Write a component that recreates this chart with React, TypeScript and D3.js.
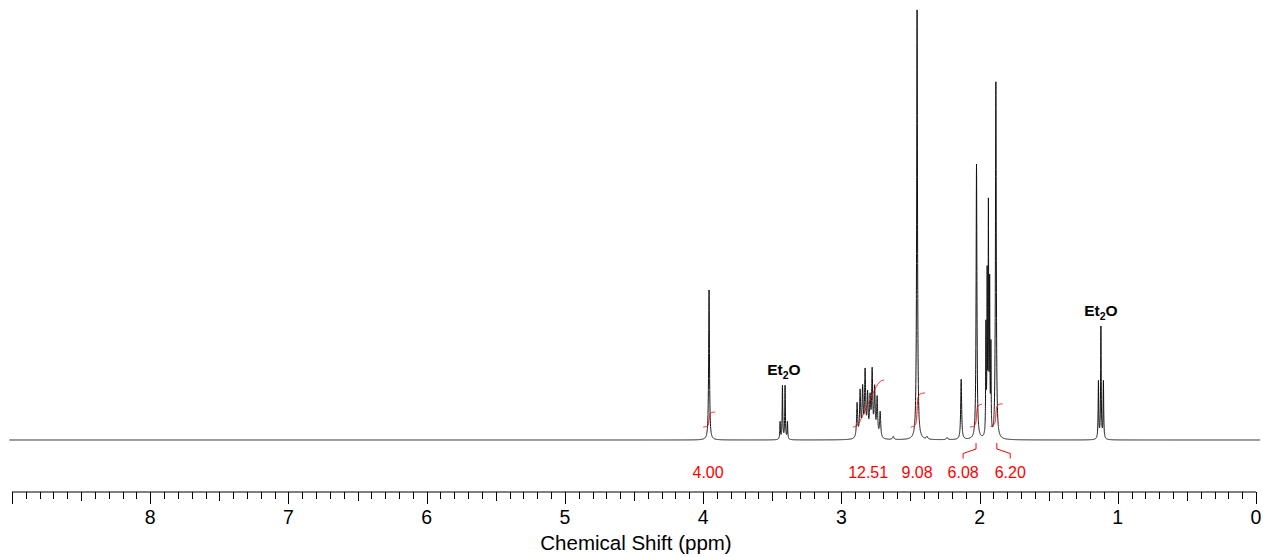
import React from 'react';
import * as d3 from 'd3';

// Peak list (ppm, relative intensity where tallest = 100, half width in ppm)
const PEAK_PPM = [
  3.957,
  3.443, 3.426, 3.407, 3.390,
  2.886, 2.864, 2.846, 2.828, 2.810, 2.792, 2.777, 2.759, 2.741, 2.719,
  2.625, 2.452, 2.38, 2.235, 2.133, 2.022,
  1.954, 1.945, 1.936, 1.927, 1.918,
  1.882,
  1.140, 1.122, 1.104,
];
const PEAK_INTENSITY = [
  34.9,
  4.0, 12.4, 12.4, 4.0,
  8.0, 10.5, 11.0, 15.0, 9.5, 8.5, 15.0, 11.0, 9.0, 6.0,
  0.7, 100, 0.6, 0.5, 14.0, 64.0,
  25.0, 36.0, 52.0, 34.0, 20.0,
  83.0,
  13.3, 26.0, 13.3,
];
const PEAK_WIDTH = [
  0.0035,
  0.0025, 0.0025, 0.0025, 0.0025,
  0.0045, 0.0045, 0.0045, 0.0045, 0.0045, 0.0045, 0.0045, 0.0045, 0.0045, 0.0045,
  0.006, 0.0035, 0.006, 0.006, 0.004, 0.0035,
  0.002, 0.002, 0.002, 0.002, 0.002,
  0.0035,
  0.0025, 0.0025, 0.0025,
];

// Integrals
const INTEGRAL_FROM = [4.0, 2.915, 2.497, 2.068, 1.917];
const INTEGRAL_TO = [3.913, 2.69, 2.394, 1.983, 1.833];
const INTEGRAL_VALUES = [4.0, 12.51, 9.08, 6.08, 6.2];
const INTEGRAL_LABEL_PPM = [3.964, 2.806, 2.452, 2.119, 1.778];

// Solvent annotations
const SOLVENT_PPM = [3.416, 1.122];

// Axis
const TICK_LABELS = [8, 7, 6, 5, 4, 3, 2, 1, 0];
const AXIS_TITLE = 'Chemical Shift (ppm)';

const FONT = '"Liberation Sans", Arial, Helvetica, sans-serif';

function spectrum(p: number): number {
  let s = 0;
  for (let i = 0; i < PEAK_PPM.length; i++) {
    const d = (p - PEAK_PPM[i]) / PEAK_WIDTH[i];
    s += PEAK_INTENSITY[i] / (1 + d * d);
  }
  return s;
}

function localMax(p: number, span: number): number {
  let m = 0;
  for (let q = p - span; q <= p + span; q += 0.0002) m = Math.max(m, spectrum(q));
  PEAK_PPM.forEach((pk) => {
    if (Math.abs(pk - p) <= span) m = Math.max(m, spectrum(pk));
  });
  return m;
}

export default function App() {
  const W = 1263;
  const H = 557;
  const x = d3.scaleLinear().domain([9, 0]).range([12, 1256]);
  const y = d3.scaleLinear().domain([0, 100]).range([440, 10]);

  // sample points: uniform grid plus dense points around each peak
  const ppmSet: number[] = d3.range(-0.03, 9.02, 0.001);
  PEAK_PPM.forEach((p, i) => {
    const w = PEAK_WIDTH[i];
    for (let k = -60; k <= 60; k++) ppmSet.push(p + (k * w) / 5);
  });
  const ppms = Array.from(new Set(ppmSet.map((v) => +v.toFixed(6)))).sort((a, b) => b - a);
  const data: [number, number][] = ppms.map((p) => [p, spectrum(p)]);
  const line = d3
    .line<[number, number]>()
    .x((d) => x(d[0]))
    .y((d) => y(d[1]));

  const integralBase = 427;
  const integralScale = 3.75;
  const integralPaths = INTEGRAL_VALUES.map((v, i) => {
    const a = INTEGRAL_FROM[i];
    const b = INTEGRAL_TO[i];
    const pts = d3.range(a, b - 1e-9, -0.0005);
    pts.push(b);
    const cum: number[] = [0];
    for (let k = 1; k < pts.length; k++) {
      const dp = pts[k - 1] - pts[k];
      cum.push(cum[k - 1] + ((spectrum(pts[k - 1]) + spectrum(pts[k])) / 2) * dp);
    }
    const total = cum[cum.length - 1];
    const h = v * integralScale;
    const pl = pts.map((p, k) => [x(p), integralBase - (cum[k] / total) * h] as [number, number]);
    return d3.line()(pl) || '';
  });

  const ticks = d3.range(0, 91).map((i) => i / 10);

  return (
    <svg
      width={W}
      height={H}
      style={{ position: 'absolute', left: 0, top: 0, display: 'block', background: '#fff' }}
    >
      <rect x={0} y={0} width={W} height={H} fill="#fff" />
      <path d={line(data) || ''} fill="none" stroke="#111" strokeWidth={1} />
      {integralPaths.map((d, i) => (
        <path key={'int' + i} d={d} fill="none" stroke="#ff0000" strokeWidth={1} />
      ))}
      {INTEGRAL_VALUES.map((v, i) => {
        const cx = x((INTEGRAL_FROM[i] + INTEGRAL_TO[i]) / 2);
        const lx = x(INTEGRAL_LABEL_PPM[i]);
        const bracket = Math.abs(cx - lx) > 4;
        return (
          <g key={'lab' + i}>
            {bracket && (
              <path
                d={`M${cx},443 L${cx},449 L${lx},453.5 L${lx},458.5`}
                fill="none"
                stroke="#ff0000"
                strokeWidth={1}
              />
            )}
            <text
              x={lx}
              y={478}
              textAnchor="middle"
              fontFamily={FONT}
              fontSize={16}
              fill="#ff0000"
            >
              {v.toFixed(2)}
            </text>
          </g>
        );
      })}
      {SOLVENT_PPM.map((p, i) => (
        <text
          key={'sol' + i}
          x={x(p)}
          y={y(localMax(p, 0.03)) - 10}
          textAnchor="middle"
          fontFamily={FONT}
          fontSize={15.5}
          fontWeight="bold"
          fill="#000"
        >
          Et
          <tspan fontSize={10.5} dy={4}>
            2
          </tspan>
          <tspan dy={-4}>O</tspan>
        </text>
      ))}
      {/* axis */}
      <line x1={x(9)} x2={x(0)} y1={492} y2={492} stroke="#000" strokeWidth={1} />
      {ticks.map((t, i) => {
        const len = i % 10 === 0 ? 12 : i % 5 === 0 ? 9 : 7;
        const xx = Math.round(x(t)) + 0.5;
        return <line key={'t' + i} x1={xx} x2={xx} y1={492} y2={492 + len} stroke="#000" strokeWidth={1} />;
      })}
      {TICK_LABELS.map((t) => (
        <text
          key={'tl' + t}
          x={x(t)}
          y={524}
          textAnchor="middle"
          fontFamily={FONT}
          fontSize={19.5}
          fill="#000"
        >
          {t}
        </text>
      ))}
      <text x={636} y={550} textAnchor="middle" fontFamily={FONT} fontSize={20.5} fill="#000">
        {AXIS_TITLE}
      </text>
    </svg>
  );
}
